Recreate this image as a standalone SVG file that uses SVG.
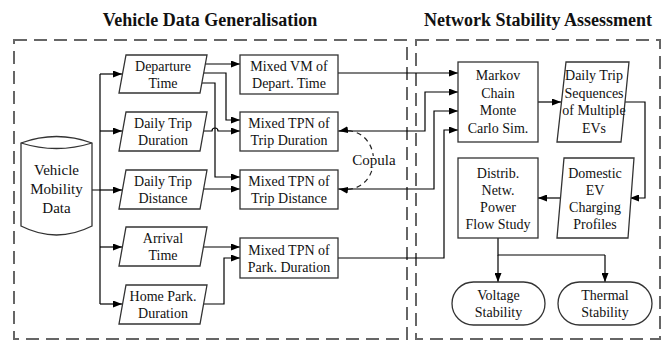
<svg xmlns="http://www.w3.org/2000/svg" width="667" height="341" viewBox="0 0 667 341">
<defs>
<marker id="ah" viewBox="0 0 9 7" refX="9" refY="3.5" markerWidth="9" markerHeight="7" markerUnits="userSpaceOnUse" orient="auto-start-reverse"><path d="M0,0 L9,3.5 L0,7 z" fill="#000"/></marker>
<style>
text{font-family:"Liberation Serif","Times New Roman",serif;font-size:14px;fill:#111;text-anchor:middle}
.title{font-size:18px;font-weight:bold}
.big{font-size:15px}
.shape{fill:#fff;stroke:#333;stroke-width:1.3}
.frame{fill:none;stroke:#666;stroke-width:2;stroke-dasharray:13 7}
.c{fill:none;stroke:#000;stroke-width:1.2}
.ca{fill:none;stroke:#000;stroke-width:1.2;marker-end:url(#ah)}
.cop{fill:none;stroke:#222;stroke-width:1.2;stroke-dasharray:5 4;marker-start:url(#ah);marker-end:url(#ah)}
.halo{stroke:#fff;stroke-width:4;paint-order:stroke}
</style>
</defs>
<rect width="667" height="341" fill="#fff"/>
<text class="title" x="210" y="26">Vehicle Data Generalisation</text>
<text class="title" x="538" y="26">Network Stability Assessment</text>
<rect class="frame" x="14" y="40" width="393" height="299"/>
<rect class="frame" x="416" y="40" width="244" height="299"/>

<g id="connectors">
<path class="c" d="M92,190 H100 M100,74 V304"/>
<path class="ca" d="M100,74 H122"/>
<path class="ca" d="M100,131 H122"/>
<path class="ca" d="M100,190 H122"/>
<path class="ca" d="M100,247 H122"/>
<path class="ca" d="M100,304 H122"/>
<path class="ca" d="M205,64 H240"/>
<path class="ca" d="M203,73 H226 V120 H240"/>
<path class="ca" d="M202,83 H215 V177 H240"/>
<path class="ca" d="M204,131 H212 A3,3 0 0 1 218,131 H240"/>
<path class="ca" d="M202,189 H240"/>
<path class="ca" d="M203,247 H240"/>
<path class="ca" d="M201,304 H224 V258 H240"/>
<path class="ca" d="M338,73 H458"/>
<path class="ca" d="M338,131 H425 V92 H458"/>
<path class="ca" d="M338,189 H434 V111 H458"/>
<path class="ca" d="M338,258 H444 V130 H458"/>
<path class="ca" d="M538,102 H561"/>
<path class="ca" d="M625,102 H645 V198 H630"/>
<path class="ca" d="M560,198 H538"/>
<path class="c" d="M498,238 V255 H605"/>
<path class="ca" d="M498,255 V282"/>
<path class="ca" d="M605,255 V282"/>
<path class="cop" d="M339,131 C385,124 385,196 339,189"/>
<text class="big halo" x="374" y="165">Copula</text>
</g>

<g id="vehicle-mobility-data">
<path class="shape" d="M21,143 Q56.5,130 92,143 V226 Q56.5,244 21,226 Z"/>
<path class="shape" d="M21,143 Q56.5,154 92,143" fill="none"/>
<text class="big" x="56.5" y="175">Vehicle</text>
<text class="big" x="56.5" y="194">Mobility</text>
<text class="big" x="56.5" y="213">Data</text>
</g>

<g id="departure-time">
<path class="shape" d="M126,55 H207 L200,93 H119 Z"/>
<text x="163" y="70.5">Departure</text><text x="163" y="87.5">Time</text>
</g>
<g id="daily-trip-duration">
<path class="shape" d="M126,112 H207 L200,151 H119 Z"/>
<text x="163" y="128">Daily Trip</text><text x="163" y="145">Duration</text>
</g>
<g id="daily-trip-distance">
<path class="shape" d="M126,170 H207 L200,209 H119 Z"/>
<text x="163" y="186">Daily Trip</text><text x="163" y="203">Distance</text>
</g>
<g id="arrival-time">
<path class="shape" d="M126,227 H207 L200,266 H119 Z"/>
<text x="163" y="243">Arrival</text><text x="163" y="260">Time</text>
</g>
<g id="home-park-duration">
<path class="shape" d="M126,285 H207 L200,324 H119 Z"/>
<text x="163" y="301">Home Park.</text><text x="163" y="318">Duration</text>
</g>

<g id="mixed-vm-depart">
<rect class="shape" x="240" y="55" width="98" height="39"/>
<text x="289" y="71">Mixed VM of</text><text x="289" y="88">Depart. Time</text>
</g>
<g id="mixed-tpn-trip-duration">
<rect class="shape" x="240" y="112" width="98" height="39"/>
<text x="289" y="128">Mixed TPN of</text><text x="289" y="145">Trip Duration</text>
</g>
<g id="mixed-tpn-trip-distance">
<rect class="shape" x="240" y="170" width="98" height="39"/>
<text x="289" y="186">Mixed TPN of</text><text x="289" y="203">Trip Distance</text>
</g>
<g id="mixed-tpn-park-duration">
<rect class="shape" x="240" y="238" width="98" height="40"/>
<text x="289" y="254.5">Mixed TPN of</text><text x="289" y="271.5">Park. Duration</text>
</g>

<g id="mcmc">
<rect class="shape" x="458" y="62" width="80" height="80"/>
<text x="498" y="80">Markov</text><text x="498" y="97.5">Chain</text><text x="498" y="115">Monte</text><text x="498" y="132.5">Carlo Sim.</text>
</g>
<g id="daily-trip-sequences">
<path class="shape" d="M566,62 H629 L621,142 H557 Z"/>
<text x="594" y="80">Daily Trip</text><text x="594" y="97.5">Sequences</text><text x="594" y="115">of Multiple</text><text x="594" y="132.5">EVs</text>
</g>
<g id="domestic-ev-charging">
<path class="shape" d="M564,158 H634 L628,238 H557 Z"/>
<text x="595" y="177.5">Domestic</text><text x="595" y="194.5">EV</text><text x="595" y="211.5">Charging</text><text x="595" y="228.5">Profiles</text>
</g>
<g id="power-flow-study">
<rect class="shape" x="458" y="158" width="80" height="80"/>
<text x="498" y="177.5">Distrib.</text><text x="498" y="194.5">Netw.</text><text x="498" y="211.5">Power</text><text x="498" y="228.5">Flow Study</text>
</g>
<g id="voltage-stability">
<rect class="shape" x="452" y="282" width="93" height="43" rx="21.5"/>
<text x="498.5" y="300">Voltage</text><text x="498.5" y="317">Stability</text>
</g>
<g id="thermal-stability">
<rect class="shape" x="558" y="282" width="94" height="43" rx="21.5"/>
<text x="605" y="300">Thermal</text><text x="605" y="317">Stability</text>
</g>
</svg>
